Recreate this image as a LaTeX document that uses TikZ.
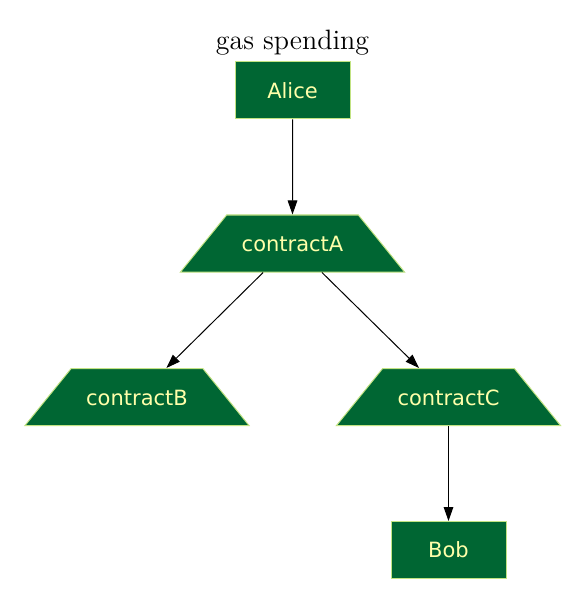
\documentclass[tikz,border=0pt]{standalone}
\usepackage{fontspec}
\usetikzlibrary{shapes.geometric,arrows.meta}
\newfontfamily\labelfont{DejaVu Sans}
\definecolor{nodegreen}{HTML}{006633}
\definecolor{nodeedge}{HTML}{C2E383}
\definecolor{nodetext}{HTML}{FFFFAA}
\tikzset{
  account/.style={rectangle, draw=nodeedge, fill=nodegreen, text=nodetext,
    font=\labelfont\fontsize{10.5}{12}\selectfont, minimum width=57.5pt,
    minimum height=28.5pt, inner sep=0pt, line width=0.5pt},
  contract/.style={account, trapezium, trapezium angle=51,
    trapezium stretches body, text height=8pt, text depth=0pt,
    inner ysep=10.25pt, minimum width=112pt},
  call/.style={-{Triangle[length=7pt,width=4.8pt]}, line width=0.5pt}
}
\begin{document}
\begin{tikzpicture}[x=0.5pt, y=-0.5pt]
        \useasboundingbox (0,0) rectangle (586,604);
        
        \node[anchor=base, font=\fontsize{14}{17}\selectfont] (title) at (292.5,50) {gas spending};
        
        \node[account] (alice) at (292.5,90.5) {Alice};
        \node[contract] (contractA) at (292.5,243.5) {contractA};
        \node[contract] (contractB) at (137,397) {contractB};
        \node[contract] (contractC) at (448.5,397) {contractC};
        \node[account] (bob) at (448.5,550) {Bob};
        
        \draw[call] (alice) -- (contractA);
        \draw[call] (contractA) -- (contractB);
        \draw[call] (contractA) -- (contractC);
        \draw[call] (contractC) -- (bob);
    \end{tikzpicture}
\end{document}
